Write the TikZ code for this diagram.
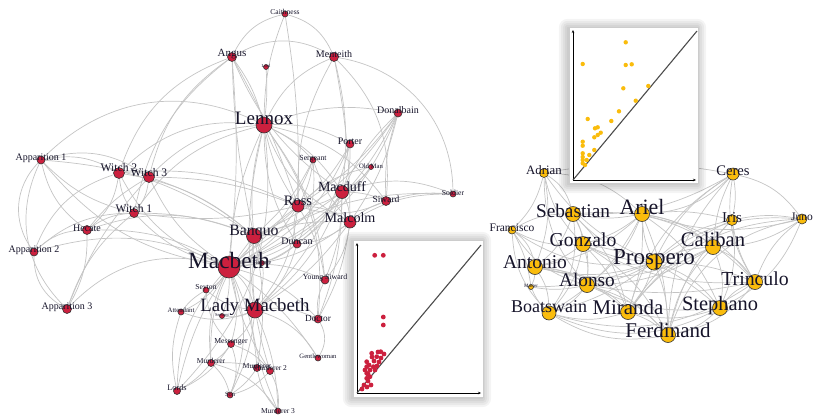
\documentclass[tikz,border=0pt]{standalone}
\usepackage{fontspec}
\setmainfont{Liberation Serif}
\usepackage{tikz}
\usetikzlibrary{arrows.meta,backgrounds,positioning}

\definecolor{macred}{RGB}{204,32,62}
\definecolor{tempgold}{RGB}{250,188,12}
\definecolor{linkgray}{RGB}{196,196,196}
\definecolor{inknavy}{RGB}{22,20,42}
\newcommand{\fsize}[1]{\fontsize{#1}{#1}\selectfont}

\begin{document}
\begin{tikzpicture}[x=1pt, y=-1pt,
  redpt/.style={circle, draw=black!80, fill=macred, inner sep=0pt, line width=0.6pt},
  goldpt/.style={circle, draw=black!80, fill=tempgold, inner sep=0pt, line width=0.6pt},
  lbl/.style={text=inknavy, inner sep=0pt, yshift=#1},
  lbl/.default=3pt,
  link/.style={draw=linkgray, line width=0.7pt},
  inset/.style={rectangle, draw=black!20, fill=white, line width=0.4pt},
  ax/.style={line width=0.8pt, -{Stealth[length=3pt, width=2.5pt]}},
  diag/.style={line width=1.1pt, draw=black!70}
]
\useasboundingbox (0,0) rectangle (818,416);

% Macbeth
\node[redpt, minimum size=6pt, label={[lbl=2pt, font=\fsize{7.5}]center:Caithness}] (cai) at (285,14) {};
\node[redpt, minimum size=9pt, label={[lbl, font=\fsize{11}]center:Angus}] (ang) at (232,57) {};
\node[redpt, minimum size=5pt, label={[lbl=1pt, font=\fsize{4.5}]center:Lord}] (lrd) at (266,67) {};
\node[redpt, minimum size=9pt, label={[lbl, font=\fsize{10}]center:Menteith}] (men) at (334,57) {};
\node[redpt, minimum size=16pt, label={[lbl=7pt, font=\fsize{19}]center:Lennox}] (len) at (264,125) {};
\node[redpt, minimum size=8pt, label={[lbl, font=\fsize{10}]center:Donalbain}] (don) at (398,113) {};
\node[redpt, minimum size=8pt, label={[lbl, font=\fsize{10}]center:Porter}] (por) at (350,144) {};
\node[redpt, minimum size=6pt, label={[lbl=1pt, font=\fsize{7.8}]center:Sergeant}] (ser) at (313,160) {};
\node[redpt, minimum size=5pt, label={[lbl=1pt, font=\fsize{6.7}]center:Old Man}] (old) at (371,167) {};
\node[redpt, minimum size=13pt, label={[lbl=5pt, font=\fsize{14}]center:Macduff}] (mcd) at (342,192) {};
\node[redpt, minimum size=9pt, label={[lbl=2pt, font=\fsize{9.5}]center:Siward}] (siw) at (386,201) {};
\node[redpt, minimum size=6pt, label={[lbl=1pt, font=\fsize{7.7}]center:Soldier}] (sol) at (453,194) {};
\node[redpt, minimum size=12pt, label={[lbl=5pt, font=\fsize{14.4}]center:Ross}] (ros) at (298,206) {};
\node[redpt, minimum size=12pt, label={[lbl=4pt, font=\fsize{14.1}]center:Malcolm}] (mal) at (350,222) {};
\node[redpt, minimum size=8pt, label={[lbl=2pt, font=\fsize{10}]center:Apparition 1}] (ap1) at (41,160) {};
\node[redpt, minimum size=11pt, label={[lbl=5pt, font=\fsize{11.6}]center:Witch 2}] (wi2) at (119,173) {};
\node[redpt, minimum size=11pt, label={[lbl=4pt, font=\fsize{11.6}]center:Witch 3}] (wi3) at (149,177) {};
\node[redpt, minimum size=9pt, label={[lbl=4pt, font=\fsize{11.6}]center:Witch 1}] (wi1) at (134,213) {};
\node[redpt, minimum size=9pt, label={[lbl=2pt, font=\fsize{10}]center:Hecate}] (hec) at (87,230) {};
\node[redpt, minimum size=8pt, label={[lbl=2pt, font=\fsize{10}]center:Apparition 2}] (ap2) at (34,252) {};
\node[redpt, minimum size=9pt, label={[lbl=2pt, font=\fsize{10}]center:Apparition 3}] (ap3) at (67,309) {};
\node[redpt, minimum size=15pt, label={[lbl=4pt, font=\fsize{15.8}]center:Banquo}] (ban) at (254,236) {};
\node[redpt, minimum size=8pt, label={[lbl=3pt, font=\fsize{10}]center:Duncan}] (dun) at (297,244) {};
\node[redpt, minimum size=5pt, label={[lbl=1pt, font=\fsize{6}]center:Fleance}] (fle) at (262,263) {};
\node[redpt, minimum size=22pt, label={[lbl=7pt, font=\fsize{23.4}]center:Macbeth}] (mac) at (229,267) {};
\node[redpt, minimum size=8pt, label={[lbl=2pt, font=\fsize{7.8}]center:Young Siward}] (ysi) at (325,280) {};
\node[redpt, minimum size=6pt, label={[lbl=2pt, font=\fsize{7.6}]center:Seyton}] (sey) at (206,290) {};
\node[redpt, minimum size=6pt, label={[lbl=2pt, font=\fsize{6.8}]center:Attendant}] (att) at (181,312) {};
\node[redpt, minimum size=5pt, label={[lbl=1pt, font=\fsize{4.5}]center:Servant}] (srv) at (222,316) {};
\node[redpt, minimum size=16pt, label={[lbl=3pt, font=\fsize{18.8}]center:Lady Macbeth}] (lmb) at (255,310) {};
\node[redpt, minimum size=8pt, label={[lbl=1pt, font=\fsize{9.3}]center:Doctor}] (doc) at (318,319) {};
\node[redpt, minimum size=7pt, label={[lbl=2pt, font=\fsize{7.7}]center:Messenger}] (mes) at (231,344) {};
\node[redpt, minimum size=7pt, label={[lbl=2pt, font=\fsize{7.5}]center:Murderer}] (mu1) at (211,363) {};
\node[redpt, minimum size=7pt, label={[lbl=2pt, font=\fsize{7.5}]center:Murderer}] (mux) at (257,368) {};
\node[redpt, minimum size=7pt, label={[lbl=3pt, font=\fsize{7.5}]center:Murderer 2}] (mu2) at (270,371) {};
\node[redpt, minimum size=6pt, label={[lbl=2pt, font=\fsize{6.6}]center:Gentlewoman}] (gen) at (318,358) {};
\node[redpt, minimum size=7pt, label={[lbl=3pt, font=\fsize{8.3}]center:Lords}] (lor) at (177,391) {};
\node[redpt, minimum size=6pt, label={[lbl=1pt, font=\fsize{6.4}]center:Son}] (son) at (230,395) {};
\node[redpt, minimum size=6pt, label={[lbl=0pt, font=\fsize{7.5}]center:Murderer 3}] (mu3) at (278,411) {};

% The Tempest
\node[goldpt, minimum size=9pt, label={[lbl=3pt, font=\fsize{12.8}]center:Adrian}] (adr) at (544,173) {};
\node[goldpt, minimum size=12pt, label={[lbl=3pt, font=\fsize{14.6}]center:Ceres}] (cer) at (733,174) {};
\node[goldpt, minimum size=15pt, label={[lbl=3pt, font=\fsize{19.3}]center:Sebastian}] (seb) at (573,214) {};
\node[goldpt, minimum size=15pt, label={[lbl=7pt, font=\fsize{21.9}]center:Ariel}] (ari) at (642,214) {};
\node[goldpt, minimum size=8pt, label={[lbl=2pt, font=\fsize{11.5}]center:Francisco}] (fra) at (512,230) {};
\node[goldpt, minimum size=11pt, label={[lbl=2pt, font=\fsize{15}]center:Iris}] (iri) at (732,220) {};
\node[goldpt, minimum size=10pt, label={[lbl=2pt, font=\fsize{11.5}]center:Juno}] (jun) at (802,219) {};
\node[goldpt, minimum size=15pt, label={[lbl=4pt, font=\fsize{19.7}]center:Gonzalo}] (gon) at (583,244) {};
\node[goldpt, minimum size=15pt, label={[lbl=8pt, font=\fsize{20.6}]center:Caliban}] (cal) at (713,247) {};
\node[goldpt, minimum size=16pt, label={[lbl=3pt, font=\fsize{23}]center:Prospero}] (pro) at (654,262) {};
\node[goldpt, minimum size=15pt, label={[lbl=5pt, font=\fsize{19.5}]center:Antonio}] (ant) at (535,267) {};
\node[goldpt, minimum size=15pt, label={[lbl=3pt, font=\fsize{19.8}]center:Trinculo}] (tri) at (755,282) {};
\node[goldpt, minimum size=15pt, label={[lbl=5pt, font=\fsize{19.3}]center:Alonso}] (alo) at (587,285) {};
\node[goldpt, minimum size=5pt, label={[lbl=1pt, font=\fsize{5}]center:Master}] (mas) at (531,287) {};
\node[goldpt, minimum size=14pt, label={[lbl=6pt, font=\fsize{18}]center:Boatswain}] (boa) at (549,313) {};
\node[goldpt, minimum size=15pt, label={[lbl=5pt, font=\fsize{20.9}]center:Miranda}] (mir) at (628,312) {};
\node[goldpt, minimum size=15pt, label={[lbl=2pt, font=\fsize{20.4}]center:Stephano}] (ste) at (720,308) {};
\node[goldpt, minimum size=15pt, label={[lbl=5pt, font=\fsize{21}]center:Ferdinand}] (fer) at (668,335) {};

\begin{scope}[on background layer]
% Macbeth links
\foreach \a/\b/\c in {ap1/len/35, ap1/ap2/-40, ap1/ap3/-35, ap2/ap3/-30, ap1/hec/-20, ap1/wi2/20, ap1/wi3/25,
  ap1/wi1/-15, ap1/mac/-20, ap1/ban/15, ap2/hec/20, ap2/wi1/20, ap2/mac/20, ap2/wi2/25, ap3/mac/30,
  ap3/hec/-15, ap3/wi1/15, ap3/wi3/10, hec/wi1/15, hec/wi2/-20, hec/wi3/10, hec/mac/15, hec/ban/20,
  wi1/wi2/15, wi1/wi3/-15, wi2/wi3/20, wi1/mac/-15, wi2/mac/-20, wi3/mac/-15, wi1/ban/10, wi2/ban/15,
  wi3/ban/10, wi1/len/20, wi2/len/25, wi3/len/20, wi2/ros/15, wi3/ros/10, wi1/ros/-10, wi3/ang/20,
  wi2/ang/25, wi1/ang/20, ang/cai/25, ang/men/30, cai/men/25, cai/ros/5, cai/len/-10, ang/len/10,
  ang/ros/5, ang/mac/5, ang/ban/-5, ang/mcd/-15, lrd/len/5, men/len/-20, men/mal/5, men/mcd/10,
  men/sol/40, men/siw/25, men/ros/-15, don/len/-15, don/mal/10, don/mcd/-10, don/mac/20, don/ban/15,
  don/ros/10, don/siw/-10, don/dun/15, por/mcd/10, por/len/-15, por/mac/20, por/lmb/15, por/ros/10,
  ser/dun/15, ser/mal/-10, ser/ros/10, ser/mac/15, ser/len/-10, ser/ban/10, old/ros/-15, old/mcd/10,
  old/mac/15, sol/mcd/-20, sol/mal/-15, sol/siw/-10, sol/mac/-20, mcd/mal/10, mcd/ros/15, mcd/len/-15,
  mcd/mac/20, mcd/lmb/15, mcd/ysi/10, mcd/siw/10, mcd/ban/10, mcd/dun/10, mcd/doc/10, ros/mac/15,
  ros/len/10, ros/ban/10, ros/dun/-15, ros/mal/15, ros/lmb/15, ros/siw/-20, ros/ysi/10, mal/mac/15,
  mal/siw/10, mal/len/20, mal/dun/15, mal/ban/-10, mal/ysi/15, mal/doc/10, mal/lmb/10, ban/mac/15,
  ban/len/10, ban/fle/15, ban/lmb/20, ban/dun/15, ban/mu1/-20, ban/mu2/-10, ban/mu3/-15, ban/mux/10,
  dun/mac/15, dun/lmb/15, dun/len/15, dun/fle/10, mac/lmb/15, mac/sey/15, mac/att/15, mac/srv/10,
  mac/doc/15, mac/mes/15, mac/mu1/-15, mac/mu2/-10, mac/mux/10, mac/ysi/15, mac/len/10, mac/fle/10,
  mac/lor/-20, mac/son/20, mac/gen/10, lmb/doc/15, lmb/gen/20, lmb/mes/15, lmb/att/20, lmb/srv/15,
  lmb/sey/15, lmb/son/10, lmb/mu3/10, doc/gen/30, doc/ysi/15, mes/lor/15, mes/mu1/10, mes/son/20,
  mes/mu2/15, mu1/mu2/10, mu1/mu3/20, mu1/lor/10, mu1/son/15, mu2/mu3/15, mux/mu3/-15, mu2/son/15,
  mux/son/10, lor/len/-25, lor/ros/20, att/sey/10, sey/mes/-20, att/lor/-15, len/lmb/-10, len/siw/20,
  len/ysi/15, len/doc/20}
  \draw[link] (\a) to[bend left=\c] (\b);
% Tempest links
\foreach \a/\b/\c in {pro/ari/10, pro/cal/10, pro/mir/10, pro/fer/10, pro/ste/15, pro/tri/10, pro/alo/10,
  pro/gon/10, pro/ant/15, pro/seb/15, pro/boa/10, pro/adr/15, pro/iri/15, pro/cer/15, pro/jun/20,
  pro/fra/20, pro/mas/10, ari/cal/15, ari/alo/15, ari/gon/10, ari/ant/15, ari/seb/10, ari/mir/10,
  ari/fer/10, ari/ste/15, ari/tri/20, ari/boa/15, ari/cer/-20, ari/iri/10, ari/adr/-20, seb/ant/15,
  seb/alo/15, seb/gon/10, seb/adr/-20, seb/fra/-15, seb/boa/20, seb/tri/25, seb/mir/15, seb/cer/-15,
  gon/ant/10, gon/alo/10, gon/adr/15, gon/fra/15, gon/boa/15, gon/mir/10, gon/fer/15, gon/ste/15,
  gon/tri/-15, ant/alo/15, ant/adr/-15, ant/fra/-20, ant/boa/15, ant/mas/10, ant/mir/15, ant/fer/20,
  ant/cal/-20, alo/fer/15, alo/mir/15, alo/boa/15, alo/adr/20, alo/fra/20, alo/mas/10, alo/ste/-15,
  alo/cal/-15, alo/tri/-10, boa/mas/10, boa/mir/-15, boa/fer/-20, boa/ste/-25, boa/fra/20, boa/tri/-25,
  mir/fer/10, mir/cal/15, mir/ste/-15, mir/cer/20, mir/iri/15, mir/jun/25, fer/ste/-15, fer/cal/15,
  fer/tri/-20, fer/cer/20, fer/iri/15, fer/jun/30, cal/ste/15, cal/tri/15, cal/iri/10, cal/cer/10,
  cal/jun/-15, ste/tri/15, ste/iri/-15, tri/iri/10, tri/jun/15, tri/cer/20, cer/iri/10, cer/jun/20,
  iri/jun/10, adr/cer/10, fra/mas/10, fra/adr/-15, ste/jun/-20, ari/jun/-15}
  \draw[link] (\a) to[bend left=\c] (\b);
\end{scope}

% persistence insets
\node[inset, minimum width=130pt, minimum height=157pt] (insm) at (418,318.5) {};
\node[inset, minimum width=129pt, minimum height=156pt] (inst) at (633.5,105) {};
\begin{scope}[on background layer]
\foreach \s in {9,7,5,3,1} {
  \fill[black, opacity=0.045, rounded corners=\s pt] ([shift={(-\s-1,\s+1)}]insm.south west) rectangle ([shift={(\s-1,-\s+1)}]insm.north east);
  \fill[black, opacity=0.045, rounded corners=\s pt] ([shift={(-\s-1,\s+1)}]inst.south west) rectangle ([shift={(\s-1,-\s+1)}]inst.north east);
}
\end{scope}

\coordinate (o1) at (357,393);
\coordinate (y1) at (357,243);
\coordinate (x1) at (481,393);
\coordinate (d1) at (481,245);
\draw[ax] (o1) -- (y1);
\draw[ax] (o1) -- (x1);
\draw[diag] (o1) -- (d1);
\foreach \px/\py in {374.7/255.3, 383.3/255.3, 383.3/317, 383.3/325, 371.7/353.3, 380.7/351.7, 376.7/356.7,
  384/354, 381/358, 378/352, 372/357, 379/362, 366.7/361.7, 366.7/366.7, 370/370, 373.3/366.7,
  375/370, 366.7/373.3, 366.7/378.3, 370/376.7, 368/381, 364/385, 367/387, 371/385, 362/389,
  369/365, 374/361, 368/374, 365/370, 377/366}
  \fill[macred] (\px,\py) circle (2.4pt);

\coordinate (o2) at (573,180);
\coordinate (y2) at (573,30);
\coordinate (x2) at (696,180);
\coordinate (d2) at (697,31);
\draw[ax] (o2) -- (y2);
\draw[ax] (o2) -- (x2);
\draw[diag] (o2) -- (d2);
\foreach \px/\py in {625.7/42.3, 582.7/64, 625.7/65, 631.7/64.3, 623.3/88.3, 648.3/86, 635.7/100.7,
  619/111.3, 611.3/121, 587.7/119, 595/128.3, 597.7/127.3, 600.7/132.7, 594.3/137.3, 597.7/135,
  582.7/141.7, 582.7/145.7, 594.3/150, 582.7/153.3, 589.3/155, 582.7/160, 586.7/160, 582.7/163.3,
  585/165, 582.7/157}
  \fill[tempgold] (\px,\py) circle (2.2pt);
\end{tikzpicture}
\end{document}
